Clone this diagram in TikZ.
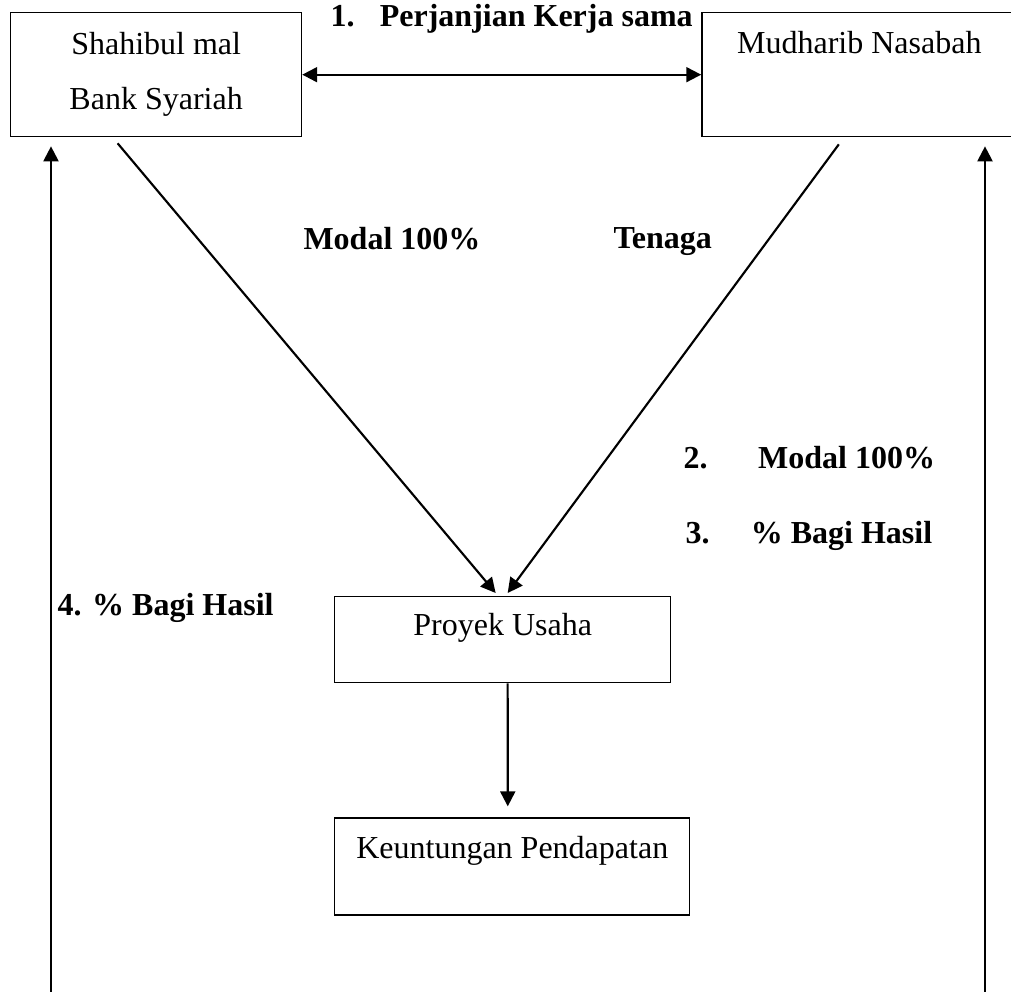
\documentclass[tikz,border=0pt]{standalone}
\usepackage{fontspec}
\setmainfont{Liberation Serif}
\usetikzlibrary{arrows.meta, positioning, calc}

\begin{document}
\begin{tikzpicture}[
  x=0.375pt, y=-0.375pt,
  normal/.style={line width=0.8pt, -{Triangle[length=5.6pt, width=5.6pt]}},
  twoway/.style={line width=0.8pt, {Triangle[length=5.6pt, width=5.6pt]}-{Triangle[length=5.6pt, width=5.6pt]}},
  box/.style={
    draw,
    line width=0.5pt,
    rectangle,
    inner xsep=0pt,
    inner ysep=0pt,
    font=\fontsize{12}{20.6}\selectfont
  },
  tag/.style={inner sep=0pt, anchor=base west, font=\fontsize{12}{14}\selectfont\bfseries}
]

  \useasboundingbox (0,0) rectangle (1011,991);

  % parties
  \node[box, align=center, anchor=north west, minimum width=109.1pt, minimum height=46.5pt] (bank) at (10,12) {Shahibul mal\\Bank Syariah};
  \node[box, right=149.6pt of bank, minimum width=118.1pt, text height=15.4pt, text depth=31.1pt] (nasabah) {Mudharib Nasabah};
  \draw[twoway] (bank.east) -- (nasabah.west);
  \node[tag] (akad) at (330,26) {1.\hspace{9.5pt}Perjanjian Kerja sama};

  % usaha
  \node[box, anchor=north west, minimum width=126pt, text height=14.6pt, text depth=17.65pt] (proyek) at (334,596) {Proyek Usaha};
  \draw[normal] ($(bank.south)+(-38.5,6)$) -- ($(proyek.north)+(-7,-3)$);
  \draw[normal] ($(nasabah.south)+(-20.5,7)$) -- ($(proyek.north)+(5,-3)$);
  \node[tag] (modal) at (303,249) {Modal 100\%};
  \node[tag] (tenaga) at (613,248) {Tenaga};

  \node[box, below=50.25pt of proyek, xshift=3.6pt, minimum width=133.1pt, text height=15pt, text depth=21.4pt] (untung) {Keuntungan Pendapatan};
  \draw[normal] ($(proyek.south)+(5,0)$) -- ($(untung.north)+(-4.5,-11)$);

  % hasil
  \node[tag] (modaldua) at (683,468) {2.\hspace{19pt}Modal 100\%};
  \node[tag] (bagitiga) at (685,543) {3.\hspace{15.5pt}\% Bagi Hasil};
  \node[tag] (bagiempat) at (57,615) {4. \% Bagi Hasil};

  \coordinate (kiri) at (51,995);
  \coordinate (kanan) at (985,995);
  \draw[normal] (kiri) -- ($(kiri |- bank.south)+(0,9)$);
  \draw[normal] (kanan) -- ($(kanan |- nasabah.south)+(0,9)$);

\end{tikzpicture}
\end{document}
